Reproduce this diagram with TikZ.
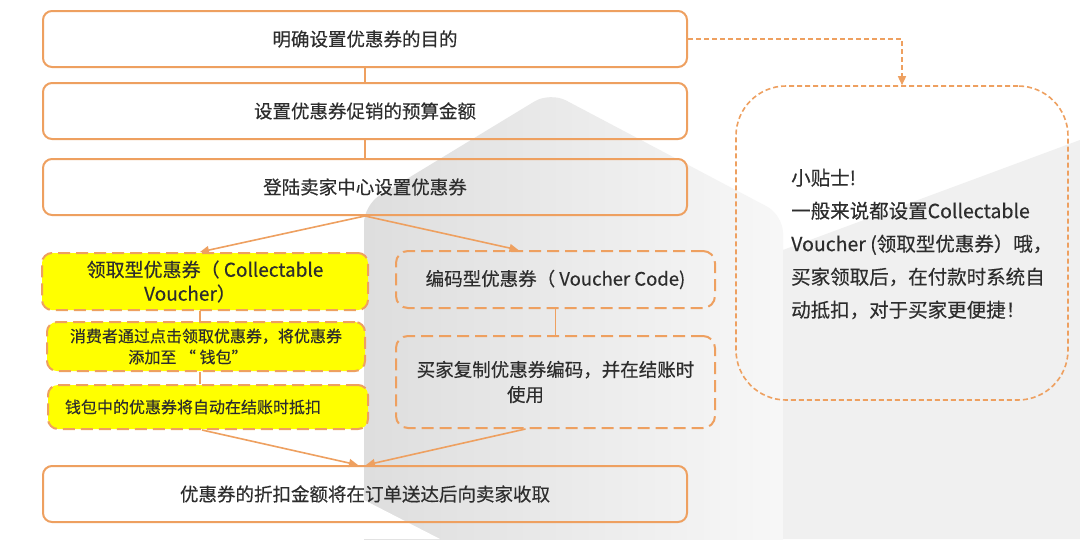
\documentclass[tikz,border=0pt]{standalone}
\usepackage{fontspec}
\setmainfont{Noto Sans CJK SC}[UprightFeatures={FakeBold=0.35}]
\usetikzlibrary{arrows.meta}
\definecolor{org}{RGB}{238,160,96}
\definecolor{txt}{RGB}{45,45,45}
\definecolor{ylw}{RGB}{255,255,0}
\tikzset{
  mainbox/.style={draw=org, line width=2pt, rounded corners=9pt, minimum width=644pt, minimum height=56pt, inner sep=0pt, text=txt, font=\fontsize{18.5}{22}\selectfont},
  ybox/.style={draw=org, line width=2pt, dash pattern=on 12pt off 6pt, rounded corners=10pt, fill=ylw, text=txt, align=center, inner sep=0pt},
  dbox/.style={draw=org, line width=2pt, dash pattern=on 12pt off 6pt, rounded corners=12pt, text=txt, align=center, inner sep=0pt},
  tipbox/.style={draw=org, line width=1.6pt, dash pattern=on 5pt off 3pt, rounded corners=50pt, minimum width=332pt, minimum height=314pt, inner sep=0pt},
  conn/.style={draw=org, line width=1.6pt},
  arr/.style={conn, -{Triangle[length=9pt,width=8pt]}},
}
\begin{document}
\begin{tikzpicture}[x=1pt,y=-1pt]
\useasboundingbox (0,0) rectangle (1080,539);
\fill[white] (0,0) rectangle (1080,539);
% background decorative cube
\shade[left color=black!13, right color=black!3, rounded corners=18pt]
  (364,560) -- (364,205) -- (550,92) -- (783,215) -- (783,560) -- cycle;
\fill[black!6] (783,539) -- (783,250) -- (1080,140) -- (1080,539) -- cycle;
\fill[white] (364,500) -- (364,539) -- (440,539) -- cycle;

% main flow
\node[mainbox] (b1) at (365,39) {明确设置优惠券的目的};
\node[mainbox] (b2) at (365,111) {设置优惠券促销的预算金额};
\node[mainbox] (b3) at (365,187) {登陆卖家中心设置优惠券};

\node[ybox, minimum width=326pt, minimum height=57pt, font=\fontsize{19}{24}\selectfont] (y1) at (205,281.5) {领取型优惠券（ Collectable\\Voucher）\hspace*{30pt}};
\node[ybox, minimum width=318pt, minimum height=49pt, font=\fontsize{16}{21}\selectfont] (y2) at (206,346.5) {消费者通过点击领取优惠券，将优惠券\\添加至 “ 钱包”\hspace*{36pt}};
\node[ybox, minimum width=320pt, minimum height=44pt, font=\fontsize{16}{21}\selectfont] (y3) at (208,407) {钱包中的优惠券将自动在结账时抵扣\hspace*{30pt}};

\node[dbox, minimum width=319pt, minimum height=57pt, font=\fontsize{18.5}{22}\selectfont] (r1) at (555.5,279.5) {编码型优惠券（ Voucher Code)};
\node[dbox, minimum width=319pt, minimum height=92pt, font=\fontsize{18.5}{25}\selectfont] (r2) at (555.5,382) {买家复制优惠券编码，并在结账时\\使用\hspace*{60pt}};

\node[mainbox] (bot) at (365,494) {优惠券的折扣金额将在订单送达后向卖家收取};

% tip box
\node[tipbox] (tip) at (902,243) {};
\node[anchor=west, align=left, text=txt, inner sep=0pt, font=\fontsize{19.5}{33}\selectfont] (tiptext) at (791,244)
  {小贴士!\\一般来说都设置Collectable\\Voucher (领取型优惠券）哦，\\买家领取后，在付款时系统自\\动抵扣，对于买家更便捷！};

% connectors
\draw[conn] (b1.south) -- (b2.north);
\draw[conn] (b2.south) -- (b3.north);
\draw[arr] (b3.south) -- ([xshift=-5pt]y1.north);
\draw[arr] (b3.south) -- ([xshift=-37pt]r1.north);
\draw[conn] ([xshift=-5pt]y1.south) -- ([xshift=-6pt]y2.north);
\draw[conn] ([xshift=-6pt]y2.south) -- ([xshift=-8pt]y3.north);
\draw[conn] (r1.south) -- (r2.north);
\draw[arr] ([xshift=-6pt]y3.south) -- ([xshift=-7pt]bot.north);
\draw[arr] ([xshift=-30pt]r2.south) -- ([xshift=1pt]bot.north);
\draw[conn, line width=1.5pt, dash pattern=on 5pt off 3pt, -{Triangle[length=9pt,width=8pt]}] (b1.east) -| (tip.north);
\end{tikzpicture}
\end{document}
